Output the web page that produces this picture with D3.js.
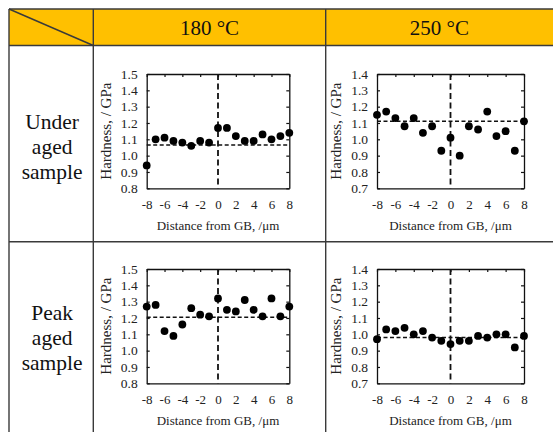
<!DOCTYPE html>
<html><head><meta charset="utf-8">
<script src="https://cdn.jsdelivr.net/npm/d3@7/dist/d3.min.js"></script>
<style>
body{margin:0;background:#fff;}
svg{display:block;font-family:"Liberation Serif","Times New Roman",serif;}
</style></head>
<body><svg id="c" width="553" height="432"></svg>
<script>
const columnLabels = ["180 °C", "250 °C"];
const rowLabels = [["Under", "aged", "sample"], ["Peak", "aged", "sample"]];
const distance = [-8, -7, -6, -5, -4, -3, -2, -1, 0, 1, 2, 3, 4, 5, 6, 7, 8];
const xTickLabels = [-8, -6, -4, -2, 0, 2, 4, 6, 8];
const yTicks180 = [0.8, 0.9, 1.0, 1.1, 1.2, 1.3, 1.4, 1.5];
const yTicks250 = [0.7, 0.8, 0.9, 1.0, 1.1, 1.2, 1.3, 1.4];
const underAged180 = [0.94, 1.10, 1.11, 1.09, 1.08, 1.06, 1.09, 1.08, 1.17, 1.17, 1.12, 1.09, 1.09, 1.13, 1.10, 1.12, 1.14];
const underAged250 = [1.15, 1.17, 1.13, 1.08, 1.13, 1.04, 1.08, 0.93, 1.01, 0.90, 1.08, 1.06, 1.17, 1.02, 1.05, 0.93, 1.11];
const peakAged180 = [1.27, 1.28, 1.12, 1.09, 1.16, 1.26, 1.22, 1.21, 1.32, 1.25, 1.24, 1.31, 1.25, 1.21, 1.32, 1.21, 1.27];
const peakAged250 = [0.97, 1.03, 1.02, 1.04, 1.00, 1.02, 0.98, 0.96, 0.94, 0.96, 0.96, 0.99, 0.98, 1.00, 1.00, 0.92, 0.99];
const meanLines = [1.065, 1.11, 1.205, 0.98];
const xTitle = "Distance from GB, /μm";
const yTitle = "Hardness, / GPa";

const svg = d3.select("#c");
const ink = "#111";
const border = "#3a3a3a";

// table
const tx0 = 9, tx1 = 93.3, tx2 = 325.7, tx3 = 560;
const ty0 = 9, ty1 = 45.5, ty2 = 241.7, ty3 = 440;
svg.append("rect").attr("x", tx0).attr("y", ty0).attr("width", tx3 - tx0).attr("height", ty1 - ty0).attr("fill", "#FFC000");
const lines = [
  [tx0, ty0, tx3, ty0], [tx0, ty1, tx3, ty1], [tx0, ty2, tx3, ty2],
  [tx0, ty0, tx0, ty3], [tx1, ty0, tx1, ty3], [tx2, ty0, tx2, ty3],
  [tx0, ty0, tx1, ty1]
];
svg.append("g").selectAll("line").data(lines).join("line")
  .attr("x1", d => d[0]).attr("y1", d => d[1]).attr("x2", d => d[2]).attr("y2", d => d[3])
  .attr("stroke", border).attr("stroke-width", 1.4);

const colCenters = [(tx1 + tx2) / 2, (tx2 + 553) / 2];
svg.append("g").selectAll("text").data(columnLabels).join("text")
  .attr("x", (d, i) => colCenters[i]).attr("y", 34.5)
  .attr("text-anchor", "middle").attr("font-size", 21).attr("fill", ink).text(d => d);

const rowCenters = [146.7, 338];
rowLabels.forEach((words, r) => {
  svg.append("g").selectAll("text").data(words).join("text")
    .attr("x", (tx0 + tx1) / 2 + 1).attr("y", (d, i) => rowCenters[r] + (i - 1) * 25 + 7)
    .attr("text-anchor", "middle").attr("font-size", 21.5).attr("fill", ink).text(d => d);
});

const hyphenInt = d => String(d);

// panels
const panels = [
  {x0: 146.7, x1: 289.3, y0: 74, y1: 188.3, ticks: yTicks180, data: underAged180, mean: meanLines[0]},
  {x0: 377, x1: 524, y0: 74, y1: 188.3, ticks: yTicks250, data: underAged250, mean: meanLines[1]},
  {x0: 146.7, x1: 289.3, y0: 269, y1: 383.3, ticks: yTicks180, data: peakAged180, mean: meanLines[2]},
  {x0: 377, x1: 524, y0: 269, y1: 383.3, ticks: yTicks250, data: peakAged250, mean: meanLines[3]}
];

panels.forEach(p => {
  const g = svg.append("g");
  const x = d3.scaleLinear().domain([d3.min(distance), d3.max(distance)]).range([p.x0, p.x1]);
  const y = d3.scaleLinear().domain([d3.min(p.ticks), d3.max(p.ticks)]).range([p.y1, p.y0]);

  // left axis (ticks inward)
  g.append("g").attr("transform", `translate(${p.x0},0)`)
    .call(d3.axisLeft(y).tickValues(p.ticks).tickFormat(d => d.toFixed(1)).tickSizeInner(-3).tickSizeOuter(0).tickPadding(9))
    .call(a => a.select(".domain").attr("stroke", ink).attr("stroke-width", 1.3))
    .call(a => a.selectAll(".tick line").attr("stroke", ink).attr("stroke-width", 1.2))
    .call(a => a.selectAll("text").attr("font-size", 13.5).attr("fill", "#222").attr("font-family", "Liberation Serif"));
  // right axis
  g.append("g").attr("transform", `translate(${p.x1},0)`)
    .call(d3.axisRight(y).tickValues(p.ticks).tickFormat("").tickSizeInner(-3).tickSizeOuter(0))
    .call(a => a.select(".domain").attr("stroke", ink).attr("stroke-width", 1.3))
    .call(a => a.selectAll(".tick line").attr("stroke", ink).attr("stroke-width", 1.2));
  // bottom axis
  g.append("g").attr("transform", `translate(0,${p.y1})`)
    .call(d3.axisBottom(x).tickValues(xTickLabels).tickSize(0).tickPadding(11).tickFormat(hyphenInt))
    .call(a => a.select(".domain").attr("stroke", ink).attr("stroke-width", 1.3))
    .call(a => a.selectAll("text").attr("font-size", 13).attr("fill", "#222").attr("font-family", "Liberation Serif"));
  // top axis
  g.append("g").attr("transform", `translate(0,${p.y0})`)
    .call(d3.axisTop(x).tickValues(xTickLabels).tickFormat("").tickSizeInner(-3).tickSizeOuter(0))
    .call(a => a.select(".domain").attr("stroke", ink).attr("stroke-width", 1.3))
    .call(a => a.selectAll(".tick line").attr("stroke", ink).attr("stroke-width", 1.2));

  // mean line
  g.append("line").attr("x1", p.x0).attr("x2", p.x1).attr("y1", y(p.mean)).attr("y2", y(p.mean))
    .attr("stroke", ink).attr("stroke-width", 1.5).attr("stroke-dasharray", "4,2.5");
  // GB line
  g.append("line").attr("x1", x(0)).attr("x2", x(0)).attr("y1", p.y0).attr("y2", p.y1)
    .attr("stroke", ink).attr("stroke-width", 1.8).attr("stroke-dasharray", "6,3.5");

  g.append("g").selectAll("circle").data(p.data).join("circle")
    .attr("cx", (d, i) => x(distance[i])).attr("cy", d => y(d)).attr("r", 3.9).attr("fill", "#000");

  g.append("text").attr("x", (p.x0 + p.x1) / 2).attr("y", p.y1 + 42)
    .attr("text-anchor", "middle").attr("font-size", 13).attr("fill", "#222").text(xTitle);
  g.append("text").attr("transform", `translate(${p.x0 - 36},${(p.y0 + p.y1) / 2}) rotate(-90)`)
    .attr("text-anchor", "middle").attr("font-size", 15).attr("fill", "#222").text(yTitle);
});
</script></body></html>
